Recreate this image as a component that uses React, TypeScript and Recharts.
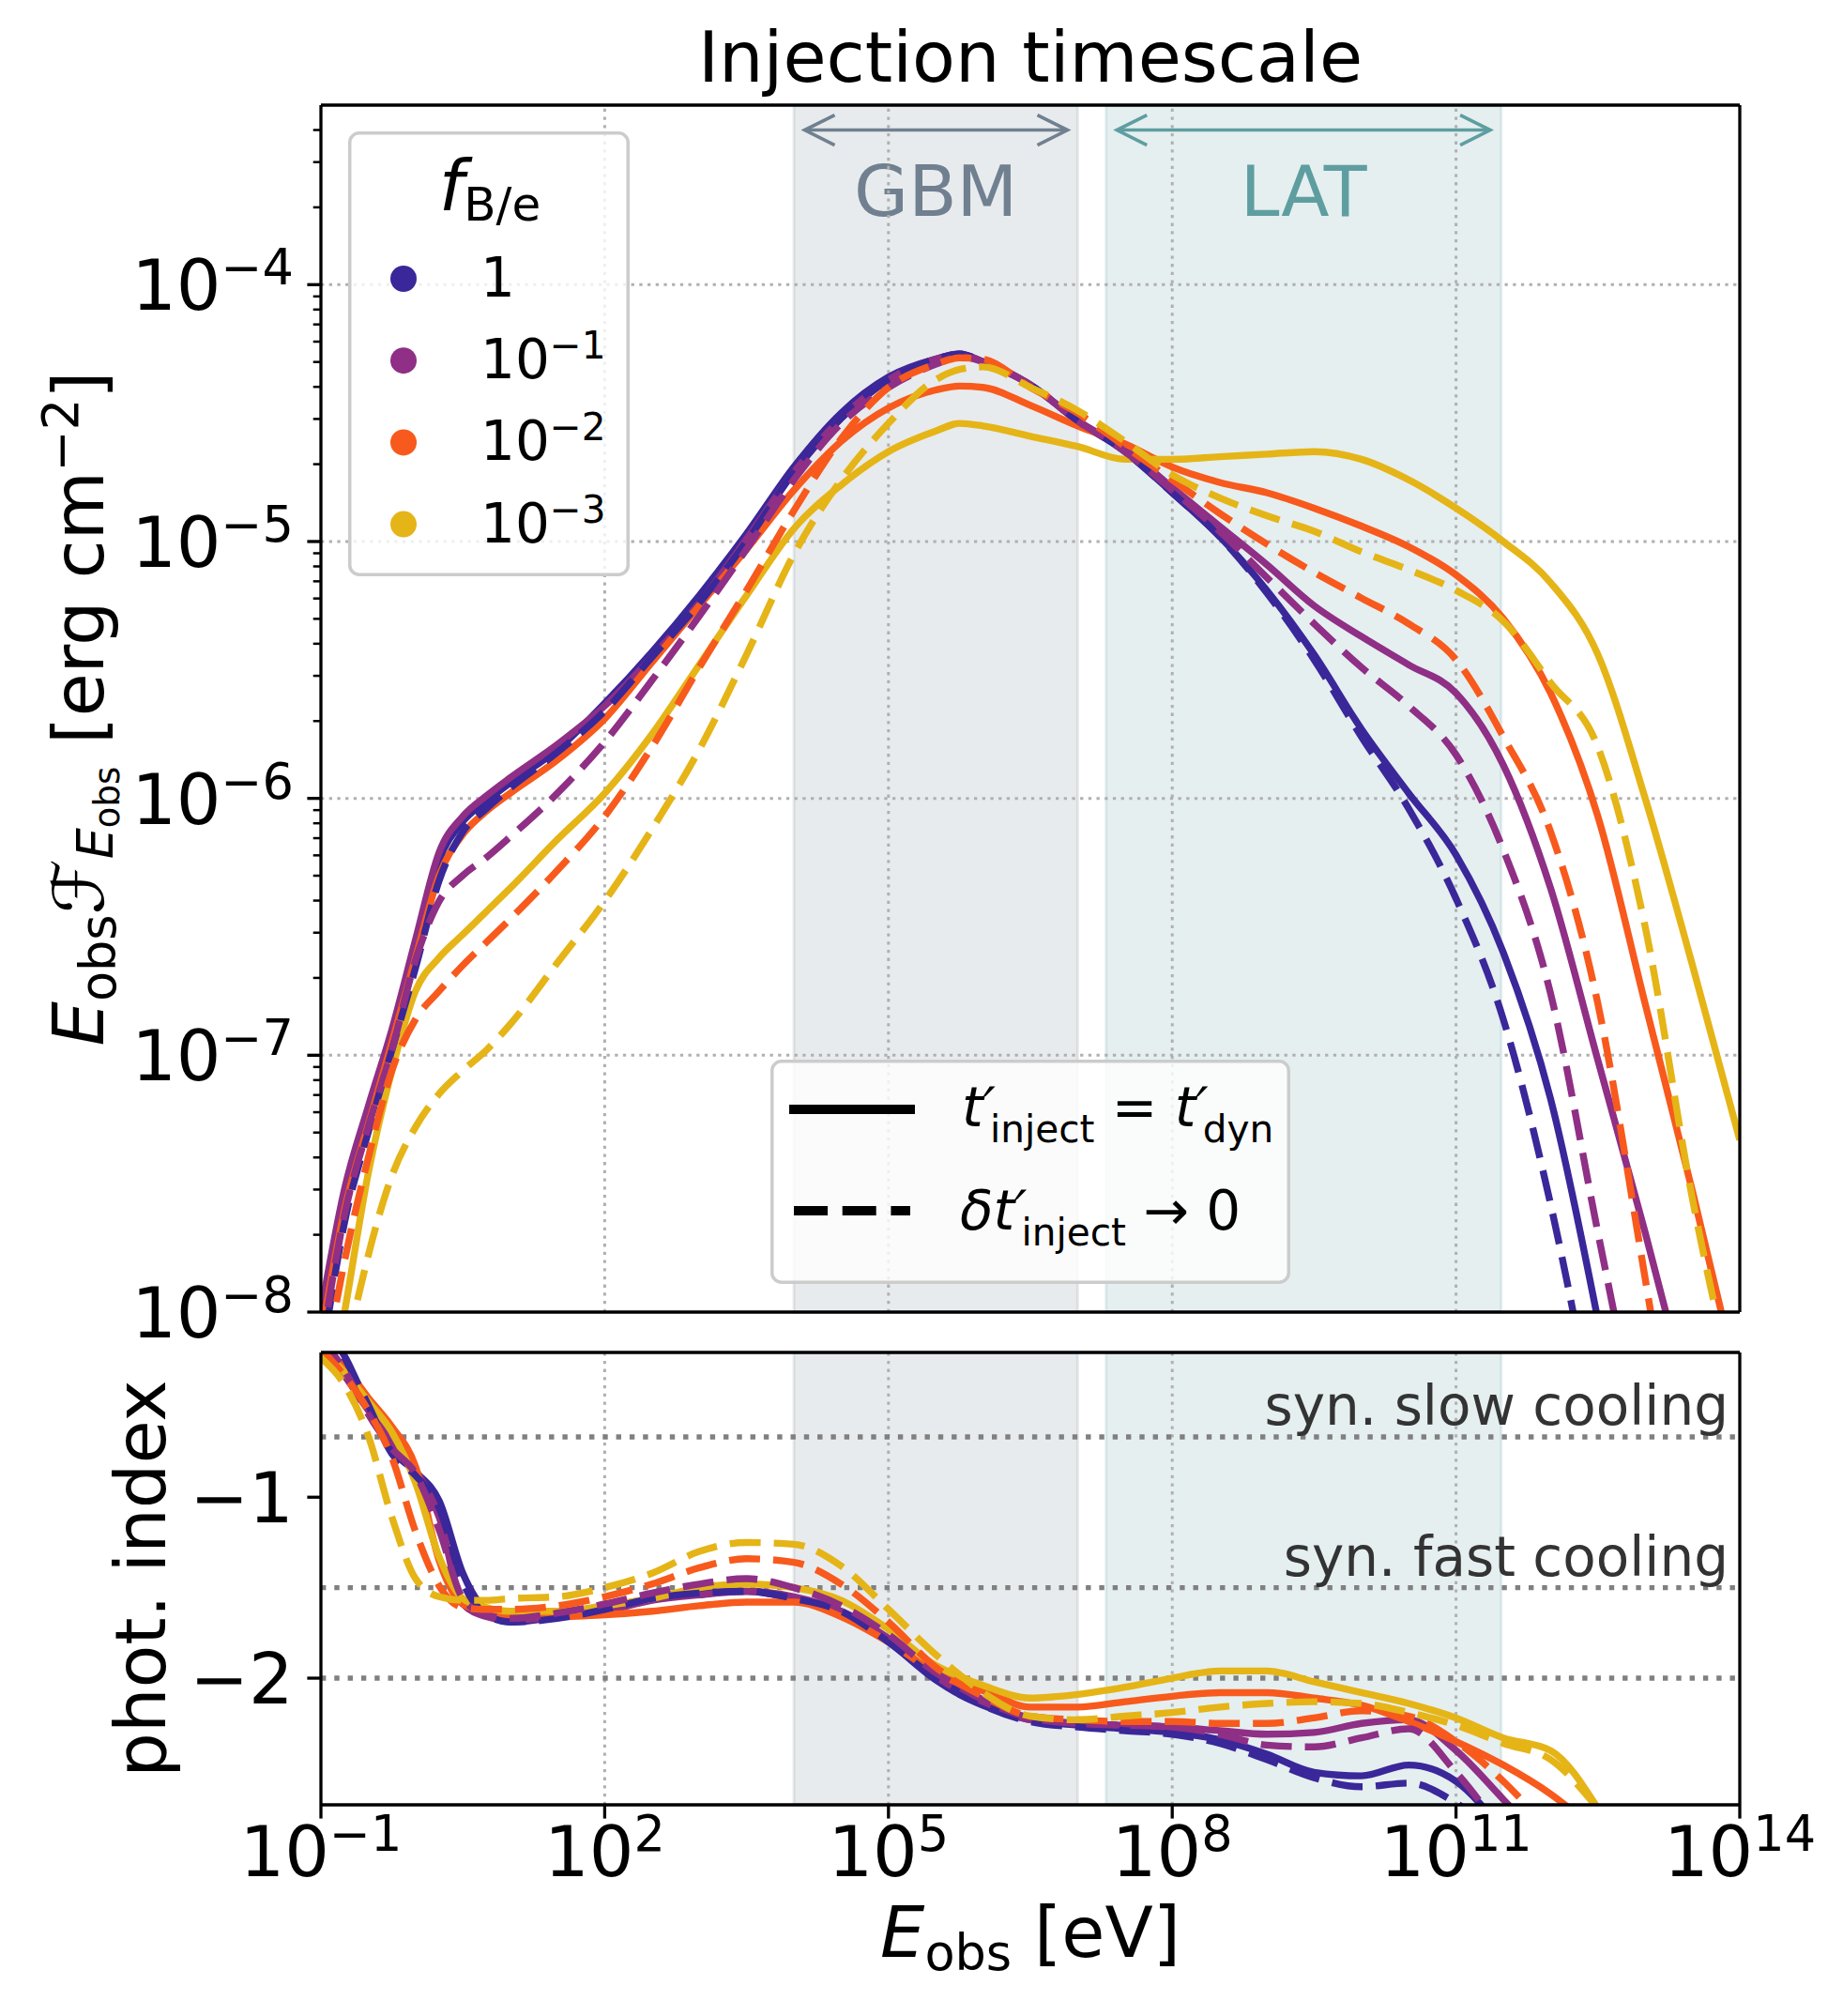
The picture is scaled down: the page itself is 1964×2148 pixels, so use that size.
import React from 'react';
import { LineChart, Line, XAxis, YAxis, ReferenceArea, ReferenceLine, Legend } from 'recharts';

const FONT = "'DejaVu Sans', sans-serif";

// energy grid, log10(E_obs / eV)
const LOG_E = [-1, -0.75, -0.5, -0.25, 0, 0.25, 0.5, 0.75, 1, 1.5, 2, 2.5, 3, 3.5, 4, 4.5, 5, 5.5, 5.75, 6, 6.5, 7, 7.5, 8, 8.5, 9, 9.5, 10, 10.5, 11, 11.5, 12, 12.5, 13, 13.5, 14];

// log10 of E F_E [erg cm^-2]  (top panel)
const SED_1_SOLID = [-8.05, -7.55, -7.22, -6.92, -6.57, -6.24, -6.09, -6.01, -5.94, -5.81, -5.63, -5.43, -5.21, -4.97, -4.71, -4.5, -4.36, -4.29, -4.27, -4.3, -4.39, -4.53, -4.65, -4.81, -4.98, -5.19, -5.44, -5.73, -5.98, -6.22, -6.6, -7.17, -8.03, null, null, null];
const SED_1_DASH = [-8.2, -7.65, -7.3, -6.98, -6.66, -6.32, -6.13, -6.04, -5.96, -5.82, -5.66, -5.45, -5.24, -5.0, -4.73, -4.52, -4.37, -4.29, -4.27, -4.3, -4.39, -4.53, -4.65, -4.81, -4.98, -5.2, -5.46, -5.76, -6.04, -6.39, -6.86, -7.58, -8.5, null, null, null];
const SED_01_SOLID = [-8.0, -7.52, -7.2, -6.9, -6.55, -6.21, -6.07, -5.99, -5.92, -5.79, -5.64, -5.45, -5.24, -4.99, -4.73, -4.52, -4.37, -4.29, -4.27, -4.3, -4.39, -4.53, -4.64, -4.79, -4.94, -5.09, -5.25, -5.37, -5.48, -5.59, -5.87, -6.35, -7.02, -7.69, -8.4, null];
const SED_01_DASH = [-8.15, -7.62, -7.28, -6.98, -6.63, -6.4, -6.3, -6.23, -6.15, -5.98, -5.78, -5.54, -5.29, -5.03, -4.76, -4.54, -4.4, -4.31, -4.28, -4.3, -4.39, -4.53, -4.65, -4.8, -4.96, -5.14, -5.32, -5.49, -5.64, -5.83, -6.2, -6.76, -7.69, -8.6, null, null];
const SED_001_SOLID = [-8.1, -7.6, -7.27, -6.95, -6.62, -6.3, -6.14, -6.05, -5.98, -5.85, -5.69, -5.47, -5.25, -5.03, -4.8, -4.61, -4.48, -4.41, -4.395, -4.4, -4.47, -4.55, -4.62, -4.71, -4.77, -4.81, -4.87, -4.94, -5.02, -5.13, -5.3, -5.59, -6.07, -6.8, -7.53, -8.3];
const SED_001_DASH = [-8.3, -7.8, -7.4, -7.06, -6.86, -6.75, -6.65, -6.56, -6.47, -6.28, -6.07, -5.8, -5.49, -5.19, -4.88, -4.6, -4.4, -4.31, -4.285, -4.29, -4.4, -4.5, -4.63, -4.76, -4.89, -5.01, -5.12, -5.22, -5.32, -5.46, -5.76, -6.13, -6.8, -7.87, -9.0, null];
const SED_0001_SOLID = [-8.5, -8.0, -7.46, -7.06, -6.75, -6.62, -6.53, -6.44, -6.35, -6.16, -5.98, -5.75, -5.48, -5.21, -4.95, -4.78, -4.65, -4.57, -4.54, -4.55, -4.59, -4.63, -4.68, -4.68, -4.67, -4.66, -4.65, -4.68, -4.76, -4.87, -5.0, -5.16, -5.44, -6.0, -6.65, -7.33];
const SED_0001_DASH = [-8.8, -8.2, -7.78, -7.47, -7.28, -7.15, -7.06, -6.98, -6.88, -6.64, -6.4, -6.12, -5.81, -5.44, -5.05, -4.76, -4.54, -4.37, -4.33, -4.32, -4.4, -4.49, -4.61, -4.74, -4.83, -4.9, -4.96, -5.04, -5.11, -5.19, -5.31, -5.55, -5.8, -6.5, -7.56, -8.4];

// photon index (bottom panel)
const IDX_1_SOLID = [-0.05, -0.22, -0.5, -0.74, -0.86, -1.02, -1.42, -1.63, -1.69, -1.66, -1.61, -1.56, -1.53, -1.52, -1.56, -1.64, -1.8, -2.01, -2.09, -2.15, -2.23, -2.26, -2.28, -2.3, -2.34, -2.42, -2.52, -2.54, -2.48, -2.57, -2.85, null, null, null, null, null];
const IDX_1_DASH = [-0.02, -0.23, -0.49, -0.76, -0.88, -1.06, -1.47, -1.65, -1.69, -1.67, -1.62, -1.56, -1.53, -1.52, -1.56, -1.63, -1.8, -2.0, -2.08, -2.15, -2.24, -2.27, -2.29, -2.31, -2.36, -2.45, -2.55, -2.6, -2.58, -2.69, -2.9, null, null, null, null, null];
const IDX_01_SOLID = [-0.18, -0.33, -0.52, -0.69, -0.85, -1.11, -1.59, -1.66, -1.68, -1.66, -1.63, -1.57, -1.54, -1.52, -1.55, -1.63, -1.78, -1.99, -2.07, -2.13, -2.23, -2.25, -2.26, -2.27, -2.29, -2.31, -2.3, -2.25, -2.23, -2.4, -2.67, -2.95, null, null, null, null];
const IDX_01_DASH = [-0.12, -0.3, -0.54, -0.73, -0.87, -1.18, -1.56, -1.65, -1.67, -1.64, -1.59, -1.53, -1.48, -1.45, -1.5, -1.6, -1.76, -1.97, -2.05, -2.12, -2.22, -2.25, -2.26, -2.27, -2.31, -2.37, -2.38, -2.33, -2.28, -2.52, -2.86, null, null, null, null, null];
const IDX_001_SOLID = [-0.18, -0.28, -0.45, -0.61, -0.83, -1.35, -1.59, -1.63, -1.65, -1.66, -1.65, -1.63, -1.6, -1.58, -1.58, -1.66, -1.8, -1.97, -2.03, -2.07, -2.16, -2.16, -2.13, -2.1, -2.08, -2.08, -2.11, -2.15, -2.24, -2.35, -2.48, -2.64, -2.85, null, null, null];
const IDX_001_DASH = [-0.18, -0.33, -0.52, -0.78, -1.19, -1.49, -1.61, -1.62, -1.62, -1.6, -1.55, -1.48, -1.39, -1.34, -1.36, -1.48, -1.69, -1.94, -2.03, -2.1, -2.21, -2.23, -2.24, -2.24, -2.25, -2.25, -2.22, -2.18, -2.21, -2.35, -2.57, -2.85, null, null, null, null];
const IDX_0001_SOLID = [-0.18, -0.31, -0.47, -0.64, -0.92, -1.33, -1.56, -1.61, -1.63, -1.63, -1.6, -1.56, -1.5, -1.48, -1.5, -1.57, -1.73, -1.93, -1.99, -2.04, -2.11, -2.09, -2.05, -2.0, -1.96, -1.96, -2.02, -2.08, -2.14, -2.22, -2.33, -2.4, -2.72, null, null, null];
const IDX_0001_DASH = [-0.23, -0.38, -0.66, -1.11, -1.45, -1.55, -1.57, -1.57, -1.56, -1.55, -1.5, -1.42, -1.3, -1.25, -1.26, -1.38, -1.62, -1.87, -1.98, -2.08, -2.21, -2.23, -2.21, -2.19, -2.16, -2.14, -2.13, -2.14, -2.19, -2.26, -2.36, -2.45, -2.72, null, null, null];

const F_EXP = [0, -1, -2, -3];
const COLORS = ['#3a2799', '#8f2f85', '#f75a1c', '#e5b417'];
const X_TICK_EXP = [-1, 2, 5, 8, 11, 14];
const Y_MAJOR_EXP = [-8, -7, -6, -5, -4];
const Y_TOP_MINOR = [2e-4, 3e-4, 4e-4];
const SED_DOMAIN = [1e-8, 5e-4];
const IDX_DOMAIN = [-2.7, -0.2];
const IDX_TICKS = [-2, -1];
const SYN_SLOW = -2 / 3;
const SYN_FAST = -1.5;
const IDX_LINE2 = -2;
const GBM_RANGE = [1e4, 1e7];
const LAT_RANGE = [2e7, 3e11];
const GBM_ARROW = [1.3e4, 7.8e6];
const LAT_ARROW = [2.6e7, 2.3e11];
const ARROW_Y = 4.0e-4;

const X_TICKS = X_TICK_EXP.map((e) => 10 ** e);
const X_MIN = X_TICKS[0];
const X_MAX = X_TICKS[X_TICKS.length - 1];
const Y_TICKS: number[] = [];
Y_MAJOR_EXP.slice(0, 4).forEach((e) => {
  for (let k = 1; k <= 9; k++) Y_TICKS.push(k * 10 ** e);
});
Y_TICKS.push(1e-4, ...Y_TOP_MINOR);

const toSed = (ys: (number | null)[]) =>
  LOG_E.flatMap((l, i) => (ys[i] == null ? [] : [{ E: 10 ** l, F: 10 ** (ys[i] as number) }]));
const toIdx = (ys: (number | null)[]) =>
  LOG_E.flatMap((l, i) => (ys[i] == null ? [] : [{ E: 10 ** l, I: ys[i] as number }]));

const CURVES = [
  { color: COLORS[0], sed: [SED_1_SOLID, SED_1_DASH], idx: [IDX_1_SOLID, IDX_1_DASH] },
  { color: COLORS[1], sed: [SED_01_SOLID, SED_01_DASH], idx: [IDX_01_SOLID, IDX_01_DASH] },
  { color: COLORS[2], sed: [SED_001_SOLID, SED_001_DASH], idx: [IDX_001_SOLID, IDX_001_DASH] },
  { color: COLORS[3], sed: [SED_0001_SOLID, SED_0001_DASH], idx: [IDX_0001_SOLID, IDX_0001_DASH] },
];

const LW = 7.4;
const DASH = '33 14';
const GRID = { stroke: '#b0b0b0', strokeWidth: 3, strokeDasharray: '3.3 5.4' };
const AXIS_LINE = { stroke: '#000', strokeWidth: 3.3 };

const sup = (e: number) => (e < 0 ? '\u2212' + Math.abs(e) : String(e));

type Seg = { t: string; it?: boolean; s?: number; off?: number; dx?: number };
function spans(segs: Seg[], base: number) {
  let cur = 0;
  return segs.map((g, i) => {
    const off = g.off ?? 0;
    const d = off - cur;
    cur = off;
    return (
      <tspan key={i} dy={d || undefined} dx={g.dx} fontSize={g.s ?? base} fontStyle={g.it ? 'italic' : 'normal'}>
        {g.t}
      </tspan>
    );
  });
}

const SedYTick = (p: any) => {
  const { x, y, payload } = p;
  const lg = Math.log10(payload.value);
  const e = Math.round(lg);
  const major = Math.abs(lg - e) < 1e-6;
  return (
    <g>
      <line x1={x - (major ? 14.6 : 8.3)} x2={x} y1={y} y2={y} stroke="#000" strokeWidth={major ? 3.3 : 2.5} />
      {major && (
        <text x={x - 29} y={y + 27} textAnchor="end" fontFamily={FONT} fill="#000" style={{ whiteSpace: 'pre' }}>
          {spans([{ t: '10' }, { t: sup(e), s: 52.5, off: -27 }], 75)}
        </text>
      )}
    </g>
  );
};

const EXTick = (p: any) => {
  const { x, y, payload } = p;
  const e = Math.round(Math.log10(payload.value));
  return (
    <text x={x} y={y + 47} textAnchor="middle" fontFamily={FONT} fill="#000" style={{ whiteSpace: 'pre' }}>
      {spans([{ t: '10' }, { t: sup(e), s: 52.5, off: -27 }], 75)}
    </text>
  );
};

const IdxYTick = (p: any) => {
  const { x, y, payload } = p;
  return (
    <text x={x} y={y + 27} textAnchor="end" fontFamily={FONT} fontSize={75} fill="#000">
      {sup(payload.value)}
    </text>
  );
};

const makeArrow = (color: string) => (p: any) => {
  const { x1, y1, x2, y2 } = p;
  const h = 32;
  const w = 16;
  return (
    <g>
      <line x1={x1} y1={y1} x2={x2} y2={y2} stroke={color} strokeWidth={3.6} />
      <polyline points={`${x1 + h},${y1 - w} ${x1},${y1} ${x1 + h},${y1 + w}`} fill="none" stroke={color} strokeWidth={3.6} />
      <polyline points={`${x2 - h},${y2 - w} ${x2},${y2} ${x2 - h},${y2 + w}`} fill="none" stroke={color} strokeWidth={3.6} />
    </g>
  );
};

const bandLabel = (text: string, color: string) => (p: any) => {
  const vb = p.viewBox;
  return (
    <text x={vb.x + vb.width / 2} y={vb.y + 118} textAnchor="middle" fontFamily={FONT} fontSize={75} fill={color}>
      {text}
    </text>
  );
};

const synLabel = (text: string) => (p: any) => {
  const vb = p.viewBox;
  return (
    <text x={vb.x + vb.width - 12} y={vb.y - 13} textAnchor="end" fontFamily={FONT} fontSize={58} fill="#333333">
      {text}
    </text>
  );
};

const FLegendBox = () => (
  <svg width={300} height={474} style={{ display: 'block', overflow: 'visible' }}>
    <rect x={1.75} y={1.75} width={296.5} height={470.5} rx={10} fill="#fff" fillOpacity={0.8} stroke="#cccccc" strokeWidth={3.5} />
    <text x={151} y={84} textAnchor="middle" fontFamily={FONT} fill="#000" style={{ whiteSpace: 'pre' }}>
      {spans([{ t: 'f', it: true }, { t: 'B/e', s: 50, off: 11 }], 75)}
    </text>
    {F_EXP.map((e, i) => (
      <g key={i}>
        <circle cx={59} cy={157 + i * 87.2} r={14} fill={COLORS[i]} />
        <text x={141} y={176 + i * 87.2} fontFamily={FONT} fill="#000" style={{ whiteSpace: 'pre' }}>
          {e === 0 ? spans([{ t: '1' }], 58) : spans([{ t: '10' }, { t: sup(e), s: 40.6, off: -21 }], 58)}
        </text>
      </g>
    ))}
  </svg>
);

const TLegendBox = () => (
  <svg width={554} height={239} style={{ display: 'block', overflow: 'visible' }}>
    <rect x={1.75} y={1.75} width={550.5} height={235.5} rx={10} fill="#fff" fillOpacity={0.8} stroke="#cccccc" strokeWidth={3.5} />
    <line x1={25} x2={149} y1={53} y2={53} stroke="#000" strokeWidth={10} strokeLinecap="square" />
    <line x1={25} x2={149} y1={161} y2={161} stroke="#000" strokeWidth={10} strokeDasharray="36 15.7" />
    <text x={204} y={71} fontFamily={FONT} fill="#000" style={{ whiteSpace: 'pre' }}>
      {spans(
        [
          { t: 't\u2032', it: true },
          { t: 'inject', s: 40.6, off: 17, dx: -6 },
          { t: ' = ', off: 0 },
          { t: 't\u2032', it: true },
          { t: 'dyn', s: 40.6, off: 17, dx: -6 },
        ],
        58
      )}
    </text>
    <text x={202} y={181} fontFamily={FONT} fill="#000" style={{ whiteSpace: 'pre' }}>
      {spans(
        [
          { t: '\u03b4t\u2032', it: true },
          { t: 'inject', s: 40.6, off: 17, dx: -6 },
          { t: ' \u2192 0', off: 0 },
        ],
        58
      )}
    </text>
  </svg>
);

const titleLabel = (p: any) => {
  const vb = p.viewBox;
  return (
    <text x={vb.x + vb.width / 2} y={87} textAnchor="middle" fontFamily={FONT} fontSize={75} fill="#000">
      Injection timescale
    </text>
  );
};

const topYLabel = (p: any) => {
  const vb = p.viewBox;
  const cy = vb.y + vb.height / 2;
  const cx = 110;
  return (
    <text x={cx} y={cy} transform={`rotate(-90, ${cx}, ${cy})`} textAnchor="middle" fontFamily={FONT} fill="#000" style={{ whiteSpace: 'pre' }}>
      {spans(
        [
          { t: 'E', it: true },
          { t: 'obs', s: 52.5, off: 13 },
          { t: '\u2131', it: true, off: 0 },
          { t: 'E', it: true, s: 52.5, off: 10 },
          { t: 'obs', s: 37, off: 17 },
          { t: ' [erg cm', off: 0 },
          { t: '\u22122', s: 52.5, off: -27 },
          { t: ']', off: 0 },
        ],
        75
      )}
    </text>
  );
};

const botYLabel = (p: any) => {
  const vb = p.viewBox;
  const cy = vb.y + vb.height / 2;
  const cx = 176;
  return (
    <text x={cx} y={cy} transform={`rotate(-90, ${cx}, ${cy})`} textAnchor="middle" fontFamily={FONT} fontSize={75} fill="#000">
      phot. index
    </text>
  );
};

const xLabel = (p: any) => {
  const vb = p.viewBox;
  return (
    <text x={vb.x + vb.width / 2} y={2085} textAnchor="middle" fontFamily={FONT} fill="#000" style={{ whiteSpace: 'pre' }}>
      {spans([{ t: 'E', it: true }, { t: 'obs', s: 52.5, off: 14 }, { t: ' [eV]', off: 0 }], 75)}
    </text>
  );
};

const W = 1964;
const PLOT_LEFT = 342;
const MARGIN_RIGHT = 110;
const TOP_H = 1440;
const TOP_PLOT_TOP = 112;
const TOP_PLOT_BOTTOM = 1398;
const BOT_H = 2148;
const BOT_PLOT_TOP = 1441;
const BOT_PLOT_BOTTOM = 1923;

const renderLines = (kind: 'sed' | 'idx') =>
  [0, 1].map((style) =>
    CURVES.map((c, i) => (
      <Line
        key={`${kind}-${style}-${i}`}
        data={kind === 'sed' ? toSed(c.sed[style]) : toIdx(c.idx[style])}
        dataKey={kind === 'sed' ? 'F' : 'I'}
        type="monotone"
        stroke={c.color}
        strokeWidth={LW}
        strokeDasharray={style ? DASH : undefined}
        strokeLinejoin="round"
        dot={false}
        activeDot={false}
        isAnimationActive={false}
      />
    ))
  );

const bands = (withLabels: boolean) => [
  <ReferenceArea
    key="gbm"
    x1={GBM_RANGE[0]}
    x2={GBM_RANGE[1]}
    fill="#708090"
    fillOpacity={0.16}
    stroke="#708090"
    strokeOpacity={0.16}
    strokeWidth={3}
    label={withLabels ? bandLabel('GBM', '#708090') : undefined}
  />,
  <ReferenceArea
    key="lat"
    x1={LAT_RANGE[0]}
    x2={LAT_RANGE[1]}
    fill="#5f9ea0"
    fillOpacity={0.16}
    stroke="#5f9ea0"
    strokeOpacity={0.16}
    strokeWidth={3}
    label={withLabels ? bandLabel('LAT', '#5f9ea0') : undefined}
  />,
];

export default function App() {
  return (
    <div style={{ position: 'absolute', left: 0, top: 0, width: W, height: BOT_H, background: '#fff', fontFamily: FONT }}>
      <div style={{ position: 'absolute', left: 0, top: 0 }}>
        <LineChart width={W} height={TOP_H} margin={{ top: TOP_PLOT_TOP, right: MARGIN_RIGHT, bottom: 0, left: 0 }}>
          {bands(true)}
          {X_TICKS.slice(1, -1).map((v) => (
            <ReferenceLine key={`gx${v}`} x={v} {...GRID} />
          ))}
          {Y_MAJOR_EXP.slice(1).map((e) => (
            <ReferenceLine key={`gy${e}`} y={10 ** e} {...GRID} />
          ))}
          <ReferenceLine segment={[{ x: GBM_ARROW[0], y: ARROW_Y }, { x: GBM_ARROW[1], y: ARROW_Y }]} shape={makeArrow('#708090')} />
          <ReferenceLine segment={[{ x: LAT_ARROW[0], y: ARROW_Y }, { x: LAT_ARROW[1], y: ARROW_Y }]} shape={makeArrow('#5f9ea0')} />
          {renderLines('sed')}
          <ReferenceLine y={SED_DOMAIN[1]} ifOverflow="visible" {...AXIS_LINE} label={titleLabel} />
          <ReferenceLine x={X_MAX} ifOverflow="visible" {...AXIS_LINE} />
          <XAxis
            dataKey="E"
            type="number"
            scale="log"
            domain={[X_MIN, X_MAX]}
            allowDataOverflow
            ticks={X_TICKS}
            interval={0}
            height={TOP_H - TOP_PLOT_BOTTOM}
            tick={false}
            tickSize={14.6}
            tickLine={{ stroke: '#000', strokeWidth: 3.3 }}
            axisLine={AXIS_LINE}
          />
          <YAxis
            type="number"
            scale="log"
            domain={SED_DOMAIN}
            allowDataOverflow
            ticks={Y_TICKS}
            interval={0}
            width={PLOT_LEFT}
            tick={<SedYTick />}
            tickLine={false}
            tickSize={0}
            tickMargin={0}
            axisLine={AXIS_LINE}
            label={topYLabel}
          />
          <Legend
            layout="horizontal"
            verticalAlign="middle"
            align="center"
            wrapperStyle={{ position: 'absolute', left: 371, top: 140, width: 300, height: 474, margin: 0, padding: 0, lineHeight: 0 }}
            content={() => <FLegendBox />}
          />
        </LineChart>
      </div>
      <div style={{ position: 'absolute', left: 0, top: 0 }}>
        <LineChart width={W} height={BOT_H} margin={{ top: BOT_PLOT_TOP, right: MARGIN_RIGHT, bottom: 0, left: 0 }}>
          {bands(false)}
          {X_TICKS.slice(1, -1).map((v) => (
            <ReferenceLine key={`bgx${v}`} x={v} {...GRID} />
          ))}
          <ReferenceLine y={SYN_SLOW} stroke="#808080" strokeWidth={5.4} strokeDasharray="5.4 8.9" label={synLabel('syn. slow cooling')} />
          <ReferenceLine y={SYN_FAST} stroke="#808080" strokeWidth={5.4} strokeDasharray="5.4 8.9" label={synLabel('syn. fast cooling')} />
          <ReferenceLine y={IDX_LINE2} stroke="#808080" strokeWidth={5.4} strokeDasharray="5.4 8.9" />
          {renderLines('idx')}
          <ReferenceLine y={IDX_DOMAIN[1]} ifOverflow="visible" {...AXIS_LINE} />
          <ReferenceLine x={X_MAX} ifOverflow="visible" {...AXIS_LINE} />
          <XAxis
            dataKey="E"
            type="number"
            scale="log"
            domain={[X_MIN, X_MAX]}
            allowDataOverflow
            ticks={X_TICKS}
            interval={0}
            height={BOT_H - BOT_PLOT_BOTTOM}
            tick={<EXTick />}
            tickSize={14.6}
            tickMargin={14.6}
            tickLine={{ stroke: '#000', strokeWidth: 3.3 }}
            axisLine={AXIS_LINE}
            label={xLabel}
          />
          <YAxis
            type="number"
            domain={IDX_DOMAIN}
            allowDataOverflow
            ticks={IDX_TICKS}
            interval={0}
            width={PLOT_LEFT}
            tick={<IdxYTick />}
            tickSize={14.6}
            tickMargin={14.6}
            tickLine={{ stroke: '#000', strokeWidth: 3.3 }}
            axisLine={AXIS_LINE}
            label={botYLabel}
          />
          <Legend
            layout="horizontal"
            verticalAlign="middle"
            align="center"
            wrapperStyle={{ position: 'absolute', left: 821, top: 1129, width: 554, height: 239, margin: 0, padding: 0, lineHeight: 0 }}
            content={() => <TLegendBox />}
          />
        </LineChart>
      </div>
    </div>
  );
}
